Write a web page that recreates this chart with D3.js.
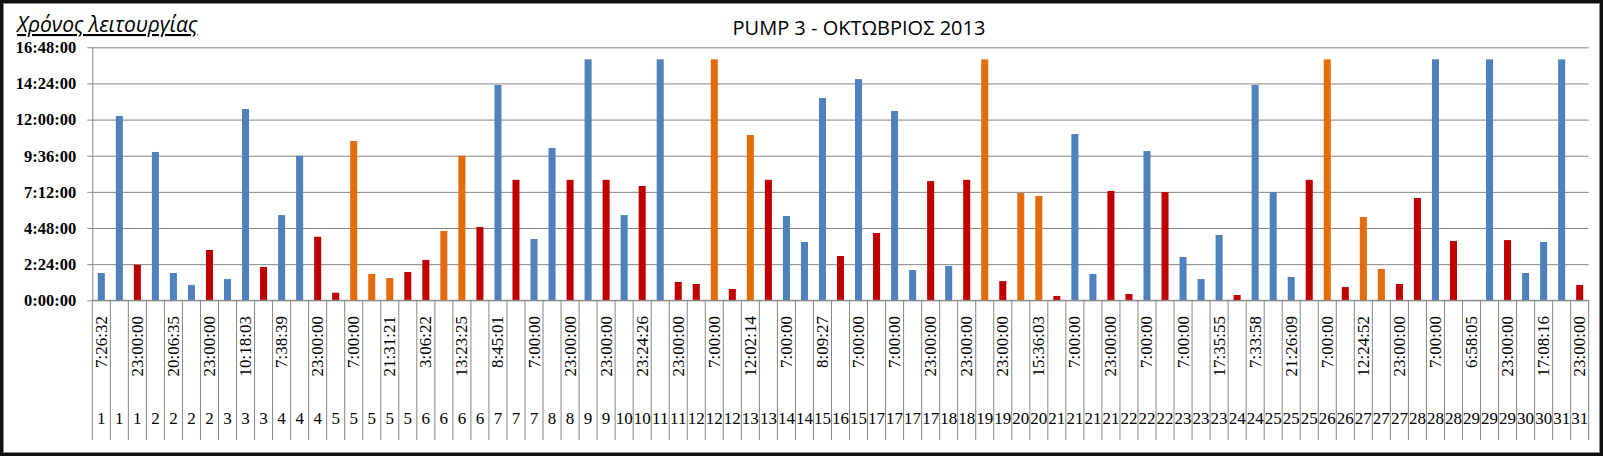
<!DOCTYPE html>
<html>
<head>
<meta charset="utf-8">
<script src="https://cdn.jsdelivr.net/npm/d3@7"></script>
<style>
  html, body { margin: 0; padding: 0; background: #fff; }
  svg { display: block; }
</style>
</head>
<body>
<svg id="chart" width="1603" height="456"></svg>
<script>
// ---- DATA ----
const chartTitle = "PUMP 3 - ΟΚΤΩΒΡΙΟΣ 2013";
const axisTitle = "Χρόνος λειτουργίας";

// day of month for each of the 83 records
const days = [1,1,1,2,2,2,2,3,3,3,4,4,4,5,5,5,5,5,6,6,6,6,7,7,7,8,8,9,9,10,10,11,11,12,12,12,13,13,14,14,15,16,15,17,17,17,17,18,18,19,19,20,20,21,21,21,21,22,22,22,23,23,23,24,24,25,25,25,26,26,27,27,27,28,28,28,29,29,29,30,30,31,31];

// start-time labels (only every second one is shown on the axis)
const shownTimes = ["7:26:32","23:00:00","20:06:35","23:00:00","10:18:03","7:38:39","23:00:00","7:00:00","21:31:21","3:06:22","13:23:25","8:45:01","7:00:00","23:00:00","23:00:00","23:24:26","23:00:00","7:00:00","12:02:14","7:00:00","8:09:27","7:00:00","7:00:00","23:00:00","23:00:00","23:00:00","15:36:03","7:00:00","23:00:00","7:00:00","7:00:00","17:35:55","7:33:58","21:26:09","7:00:00","12:24:52","23:00:00","7:00:00","6:58:05","23:00:00","17:08:16","23:00:00"];

// running time in hours
const hours = [1.81,12.24,2.36,9.85,1.81,1.02,3.34,1.41,12.70,2.21,
  5.66,9.60,4.22,0.50,10.58,1.75,1.48,1.88,2.68,4.60,
  9.60,4.87,14.30,8.00,4.07,10.11,8.00,16.00,8.00,5.66,
  7.59,16.00,1.22,1.08,16.00,0.75,10.98,8.00,5.60,3.87,
  13.43,2.94,14.69,4.47,12.57,2.01,7.92,2.28,8.00,16.00,
  1.28,7.12,6.93,0.29,11.04,1.75,7.26,0.42,9.91,7.19,
  2.88,1.41,4.34,0.35,14.30,7.19,1.55,8.00,16.00,0.88,
  5.53,2.08,1.08,6.79,16.00,3.94,0,16.00,4.00,1.81,
  3.87,16.00,1.02];

// series of each record: B = blue, R = red, O = orange
const series = ["B","B","R","B","B","B","R","B","B","R",
  "B","B","R","R","O","O","O","R","R","O",
  "O","R","B","R","B","B","R","B","R","B",
  "R","B","R","R","O","R","O","R","B","B",
  "B","R","B","R","B","B","R","B","R","O",
  "R","O","O","R","B","B","R","R","B","R",
  "B","B","B","R","B","B","B","R","O","R",
  "O","O","R","R","B","R","B","B","R","B",
  "B","B","R"];

const yTicks = [0, 2.4, 4.8, 7.2, 9.6, 12, 14.4, 16.8];
const seriesColors = { B: "#4F81BD", R: "#C00000", O: "#E46C0A" };

// ---- CHART ----
const svg = d3.select("#chart");
const W = 1603, H = 456;
const plot = { left: 92.3, right: 1588.7, top: 47.3, bottom: 300.3 };

svg.append("rect").attr("x", 0).attr("y", 0).attr("width", W).attr("height", H).attr("fill", "#fff");

const idx = d3.range(hours.length);
const x = d3.scaleBand().domain(idx).range([plot.left, plot.right]).paddingInner(0).paddingOuter(0);
const y = d3.scaleLinear().domain([0, 16.8]).range([plot.bottom, plot.top]);

const fmt = h => {
  const totalMin = Math.round(h * 60);
  const hh = Math.floor(totalMin / 60), mm = totalMin % 60;
  return hh + ":" + String(mm).padStart(2, "0") + ":00";
};

// gridlines + y axis
const yAxis = d3.axisLeft(y).tickValues(yTicks).tickFormat(fmt)
  .tickSize(-(plot.right - plot.left)).tickSizeOuter(0).tickPadding(16);
const gy = svg.append("g").attr("transform", `translate(${plot.left},0)`).call(yAxis);
gy.select(".domain").attr("stroke", "#868686");
gy.selectAll(".tick line").attr("stroke", "#868686").attr("stroke-width", 1).attr("x1", -5);
gy.selectAll(".tick text")
  .attr("font-family", "'Liberation Serif', serif")
  .attr("font-weight", "bold")
  .attr("font-size", 16.5)
  .attr("fill", "#000");

// bars
const barW = x.bandwidth() * 0.39;
svg.append("g").selectAll("rect").data(idx).join("rect")
  .attr("x", i => x(i) + (x.bandwidth() - barW) / 2)
  .attr("width", barW)
  .attr("y", i => y(hours[i]))
  .attr("height", i => y(0) - y(hours[i]))
  .attr("fill", i => seriesColors[series[i]]);

// category axis (two rows)
const gx = svg.append("g");
gx.append("line").attr("x1", plot.left).attr("x2", plot.right)
  .attr("y1", plot.bottom).attr("y2", plot.bottom).attr("stroke", "#868686");
const seps = d3.range(hours.length + 1).map(i => i < hours.length ? x(i) : plot.right);
gx.selectAll("line.sep").data(seps).join("line").attr("class", "sep")
  .attr("x1", d => d).attr("x2", d => d)
  .attr("y1", plot.bottom).attr("y2", 440)
  .attr("stroke", "#868686").attr("stroke-width", 1);

const timeLabel = i => (i % 2 === 0 ? shownTimes[i / 2] : "");
gx.selectAll("text.time").data(idx.filter(i => timeLabel(i) !== "")).join("text")
  .attr("class", "time")
  .attr("transform", i => `translate(${x(i) + x.bandwidth() / 2},316) rotate(-90)`)
  .attr("text-anchor", "end")
  .attr("dominant-baseline", "central")
  .attr("font-family", "'Liberation Serif', serif")
  .attr("font-size", 17)
  .attr("fill", "#000")
  .text(timeLabel);

gx.selectAll("text.day").data(idx).join("text")
  .attr("class", "day")
  .attr("x", i => x(i) + x.bandwidth() / 2)
  .attr("y", 418)
  .attr("text-anchor", "middle")
  .attr("dominant-baseline", "central")
  .attr("font-family", "'Liberation Serif', serif")
  .attr("font-size", 17)
  .attr("fill", "#000")
  .text(i => days[i]);

// titles
svg.append("text").attr("x", 859).attr("y", 35)
  .attr("text-anchor", "middle")
  .attr("font-family", "'Open Sans', sans-serif")
  .attr("font-size", 20)
  .attr("fill", "#000")
  .text(chartTitle);

svg.append("text").attr("x", 17).attr("y", 32)
  .attr("font-family", "'Open Sans', sans-serif")
  .attr("font-style", "italic")
  .attr("font-size", 21)
  .attr("text-decoration", "underline")
  .attr("fill", "#000")
  .text(axisTitle);

// chart border
svg.append("rect").attr("x", 1.5).attr("y", 1.5).attr("width", W - 3).attr("height", H - 3)
  .attr("fill", "none").attr("stroke", "#111").attr("stroke-width", 3);
svg.append("rect").attr("x", 3.5).attr("y", 3.5).attr("width", W - 7).attr("height", H - 7)
  .attr("fill", "none").attr("stroke", "#888").attr("stroke-width", 1);
</script>
</body>
</html>
